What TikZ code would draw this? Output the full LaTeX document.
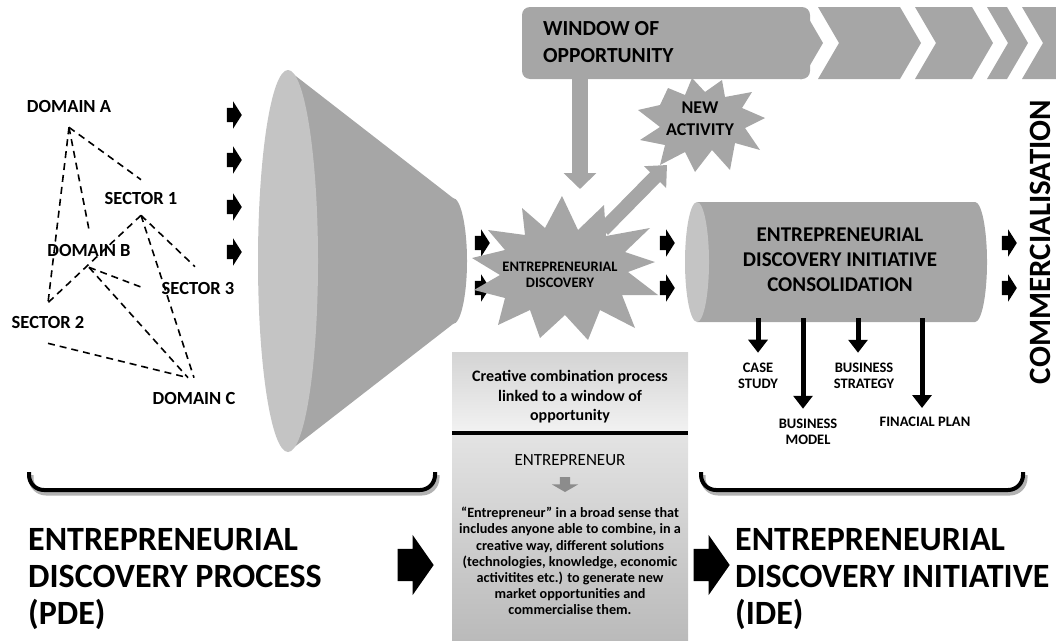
\documentclass[tikz,border=0pt]{standalone}
\usepackage{fontspec}
\setmainfont{Carlito}
\usetikzlibrary{arrows.meta,shapes.arrows,calc}

\definecolor{midgray}{HTML}{A6A6A6}
\definecolor{facegray}{HTML}{C4C4C4}

\tikzset{
  lbl/.style={font=\bfseries\fontsize{18.5}{20}\selectfont, inner sep=0pt},
  net/.style={dash pattern=on 7pt off 5pt, line width=1.6pt},
  blk/.style={single arrow, fill=black, minimum height=15pt, inner xsep=0pt, inner ysep=7pt,
    single arrow head extend=6.5pt, single arrow tip angle=115},
  bigblk/.style={single arrow, fill=black, minimum height=36pt, inner xsep=0pt, inner ysep=16pt,
    single arrow head extend=14pt, single arrow tip angle=110},
  grayarr/.style={draw=midgray, line width=16pt, -{Triangle[width=32pt,length=16pt]}},
  downarr/.style={line width=5pt, -{Triangle[width=19pt,length=13pt]}},
  smalllbl/.style={font=\bfseries\fontsize{14.5}{16.5}\selectfont, align=center, inner sep=0pt},
  bigtxt/.style={font=\bfseries\fontsize{34}{37}\selectfont, align=left, inner sep=0pt, anchor=west},
  brace/.style={line width=4pt, rounded corners=15pt},
}

\begin{document}
\begin{tikzpicture}[x=1pt, y=-1pt]
  \useasboundingbox (0,0) rectangle (1056,640);

  % window of opportunity banner
  \fill[midgray, rounded corners=8pt] (522,7) rectangle (810,79);
  \fill[midgray] (800,7) -- (802,7) -- (823,43) -- (802,79) -- (800,79) -- cycle;
  \foreach \l/\r in {818/900, 915/972, 987/1007}
    \fill[midgray] (\l,7) -- (\r,7) -- (\r+21,43) -- (\r,79) -- (\l,79) -- (\l+21,43) -- cycle;
  \fill[midgray] (1022,7) -- (1056,7) -- (1056,79) -- (1022,79) -- (1043,43) -- cycle;
  \node[font=\bfseries\fontsize{21.5}{27}\selectfont, align=left, anchor=west, inner sep=0pt]
    (window) at (543,42) {WINDOW OF\\OPPORTUNITY};

  % domains and sectors
  \node[lbl] (dA) at (69,106) {DOMAIN A};
  \node[lbl] (dS1) at (141,198) {SECTOR 1};
  \node[lbl] (dB) at (89,250) {DOMAIN B};
  \node[lbl] (dS3) at (198,288) {SECTOR 3};
  \node[lbl] (dS2) at (48,322) {SECTOR 2};
  \node[lbl] (dC) at (194,398) {DOMAIN C};

  \coordinate (pA) at ([yshift=-15pt]dA.south);
  \coordinate (pS1top) at ([yshift=12pt]dS1.north);
  \coordinate (pS1) at ([yshift=-11pt]dS1.south);
  \coordinate (pBtop) at ([yshift=14pt]dB.north);
  \coordinate (pB) at ([yshift=-11pt]dB.south);
  \coordinate (pS3top) at ([xshift=-3pt,yshift=15pt]dS3.north);
  \coordinate (pS3left) at ([xshift=-18pt]dS3.west);
  \coordinate (pS2top) at ([yshift=13pt]dS2.north);
  \coordinate (pS2bot) at ([yshift=-15pt]dS2.south);
  \coordinate (pC) at ([yshift=14pt]dC.north);

  \draw[net] (pA) -- (pS1top);
  \draw[net] (pA) -- (pBtop);
  \draw[net] (pA) -- (pS2top);
  \draw[net] (pS1) -- (pS2top);
  \draw[net] (pS1) -- (pS3top);
  \draw[net] (pS1) -- (pC);
  \draw[net] (pB) -- (pS3left);
  \draw[net] (pB) -- ([xshift=-6pt]pC);
  \draw[net] (pS2bot) -- ([xshift=-6pt]pC);

  % funnel
  \fill[midgray] (288,70) -- (453,198) arc[start angle=90, end angle=-90, x radius=14pt, y radius=63pt]
    -- (288,452) -- cycle;
  \fill[facegray] (288,261) ellipse[x radius=30pt, y radius=191pt];

  \foreach \y [count=\i] in {115,160,207,252}
    \node[blk] (in\i) at (232,\y) {};
  \node[blk] (fo1) at (480,243) {};
  \node[blk] (fo2) at (480,288) {};

  % gray arrows and bursts
  \coordinate (wbot) at (580,75);
  \coordinate (edtop) at (580,189);
  \draw[grayarr] (wbot) -- (edtop);

  \fill[midgray] (668,88) -- (685,95) -- (692,78) -- (705,92) -- (722,80) -- (725,97)
    -- (752,92) -- (742,108) -- (765,118) -- (745,128) -- (760,150) -- (735,143)
    -- (730,170) -- (712,150) -- (695,172) -- (685,152) -- (660,165) -- (665,145)
    -- (640,140) -- (660,127) -- (638,110) -- (660,105) -- cycle;
  \node[font=\bfseries\fontsize{18}{22}\selectfont, align=center, inner sep=0pt]
    (newact) at (700,119) {NEW\\ACTIVITY};

  \fill[midgray] (562,196) -- (578,230) -- (604,205) -- (606,236) -- (650,228) -- (625,252)
    -- (655,262) -- (628,272) -- (658,295) -- (622,295) -- (635,328) -- (600,310)
    -- (588,340) -- (565,315) -- (540,338) -- (530,310) -- (498,325) -- (505,298)
    -- (474,290) -- (500,275) -- (472,258) -- (505,250) -- (488,230) -- (525,235)
    -- (522,208) -- (545,228) -- cycle;
  \node[font=\bfseries\fontsize{14.5}{16}\selectfont, align=center, inner sep=0pt]
    (disc) at (560,275) {ENTREPRENEURIAL\\DISCOVERY};

  \coordinate (edright) at (603,230);
  \coordinate (natip) at (667,165);
  \draw[draw=midgray, line width=14pt, -{Triangle[width=30pt,length=17pt]}] (edright) -- (natip);

  \node[blk] (fi1) at (665,243) {};
  \node[blk] (fi2) at (665,288) {};

  % cylinder
  \fill[midgray] (697,202) -- (975,202) arc[start angle=90, end angle=-90, x radius=12pt, y radius=60pt]
    -- (697,322) -- cycle;
  \fill[facegray] (697,262) ellipse[x radius=12pt, y radius=60pt];
  \node[font=\bfseries\fontsize{21}{25}\selectfont, align=center, inner sep=0pt]
    (cyl) at (840,260) {ENTREPRENEURIAL\\DISCOVERY INITIATIVE\\CONSOLIDATION};

  \node[blk] (fc1) at (1007,243) {};
  \node[blk] (fc2) at (1007,288) {};
  \node[font=\bfseries\fontsize{31}{31}\selectfont, rotate=90, inner sep=0pt]
    (comm) at (1040,242) {COMMERCIALISATION};

  \node[smalllbl] (case) at (758,376) {CASE\\STUDY};
  \node[smalllbl] (model) at (808,432) {BUSINESS\\MODEL};
  \node[smalllbl] (strategy) at (864,376) {BUSINESS\\STRATEGY};
  \node[smalllbl] (plan) at (925,422) {FINACIAL PLAN};

  \coordinate (c1) at (758,318);
  \coordinate (c2) at (803,318);
  \coordinate (c3) at (858,318);
  \coordinate (c4) at (922,318);
  \draw[downarr, shorten >=10pt] (c1) -- (c1 |- case.north);
  \draw[downarr, shorten >=10pt] (c2) -- (c2 |- model.north);
  \draw[downarr, shorten >=10pt] (c3) -- (c3 |- strategy.north);
  \draw[downarr, shorten >=9pt] (c4) -- (c4 |- plan.north);

  % central box
  \node[minimum width=236pt, minimum height=81pt, inner sep=0pt, top color=black!17, bottom color=black!5]
    (boxtop) at (570,392.5) {};
  \node[minimum width=236pt, minimum height=205pt, inner sep=0pt, top color=black!11, bottom color=black!27]
    (boxlow) at (570,537.5) {};
  \draw[line width=4pt] (boxtop.south west) -- (boxtop.south east);
  \node[font=\bfseries\fontsize{16}{19.5}\selectfont, align=center, inner sep=0pt]
    (creative) at (570,397) {Creative combination process\\linked to a window of\\opportunity};
  \node[font=\fontsize{17}{20}\selectfont, inner sep=0pt] (entr) at (570,460) {ENTREPRENEUR};
  \node[single arrow, fill=black!45, shape border rotate=270, minimum height=15pt, inner sep=5pt,
    single arrow head extend=8pt, single arrow tip angle=120] (ddown) at (565,483) {};
  \node[font=\bfseries\fontsize{14.2}{16.2}\selectfont, align=center, inner sep=0pt]
    (para) at (570,561) {``Entrepreneur'' in a broad sense that\\includes anyone able to combine, in a\\
    creative way, different solutions\\(technologies, knowledge, economic\\activitites etc.) to generate new\\
    market opportunities and\\commercialise them.};

  % braces and bottom labels
  \draw[brace, black!30, line width=5pt] (31,475) -- (31,493) -- (437,493) -- (437,475);
  \draw[brace] (29,472) -- (29,490) -- (435,490) -- (435,472);
  \draw[brace, black!30, line width=5pt] (703,475) -- (703,493) -- (1025,493) -- (1025,475);
  \draw[brace] (701,472) -- (701,490) -- (1023,490) -- (1023,472);

  \node[bigtxt] (pde) at (28,579) {ENTREPRENEURIAL\\DISCOVERY PROCESS\\(PDE)};
  \node[bigblk] (toent) at (410,565) {};
  \node[bigblk] (toide) at (706,565) {};
  \node[bigtxt] (ide) at (735,579) {ENTREPRENEURIAL\\DISCOVERY INITIATIVE\\(IDE)};
\end{tikzpicture}
\end{document}
